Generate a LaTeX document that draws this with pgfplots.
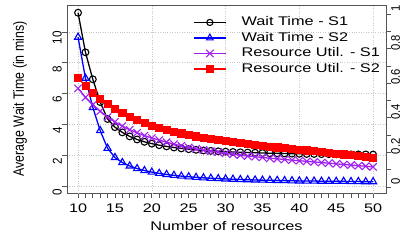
\documentclass[border=0pt]{standalone}
\usepackage{fontspec}
\setmainfont{Liberation Sans}
\newfontfamily\hfont{Liberation Sans}[FakeStretch=1.3]
\newfontfamily\vfont{Liberation Sans}[FakeStretch=0.83]
\newfontfamily\tfont{Liberation Sans}[FakeStretch=0.9]
\usepackage{pgfplots}
\usepackage{pgfplotstable}
\pgfplotsset{compat=1.18}
\definecolor{rpurple}{HTML}{A020F0}
\definecolor{framecol}{HTML}{555555}

\pgfplotstableread{
x s1 s2
10 11.25 9.66
11 8.68 7.00
12 6.93 5.10
13 5.45 3.60
14 4.35 2.45
15 3.82 1.85
16 3.48 1.52
17 3.22 1.30
18 3.02 1.13
19 2.87 1.00
20 2.75 0.90
21 2.65 0.82
22 2.57 0.75
23 2.50 0.69
24 2.44 0.64
25 2.39 0.60
26 2.35 0.56
27 2.31 0.53
28 2.28 0.50
29 2.25 0.48
30 2.23 0.46
31 2.21 0.44
32 2.19 0.42
33 2.17 0.41
34 2.16 0.39
35 2.14 0.38
36 2.13 0.37
37 2.12 0.36
38 2.11 0.35
39 2.10 0.34
40 2.09 0.33
41 2.08 0.32
42 2.08 0.32
43 2.07 0.31
44 2.07 0.31
45 2.06 0.30
46 2.06 0.30
47 2.05 0.29
48 2.05 0.29
49 2.05 0.28
50 2.04 0.28
}\waitdata

\pgfplotstableread{
x u1 u2
10 0.570 0.630
11 0.518 0.585
12 0.475 0.546
13 0.438 0.511
14 0.404 0.479
15 0.376 0.451
16 0.352 0.427
17 0.331 0.406
18 0.313 0.388
19 0.297 0.371
20 0.283 0.356
21 0.271 0.343
22 0.259 0.330
23 0.248 0.320
24 0.238 0.310
25 0.229 0.301
26 0.221 0.293
27 0.214 0.285
28 0.207 0.278
29 0.201 0.271
30 0.195 0.265
31 0.189 0.259
32 0.184 0.254
33 0.179 0.248
34 0.175 0.244
35 0.171 0.238
36 0.166 0.234
37 0.163 0.229
38 0.159 0.225
39 0.155 0.221
40 0.152 0.216
41 0.148 0.212
42 0.145 0.207
43 0.141 0.203
44 0.138 0.198
45 0.134 0.194
46 0.130 0.189
47 0.127 0.185
48 0.123 0.180
49 0.120 0.176
50 0.116 0.171
}\utildata

\begin{document}
\begin{tikzpicture}
\pgfplotsset{
  base/.style={
    width=319bp, height=188bp, scale only axis,
    xmin=8.5, xmax=51.75,
    tick align=outside,
    major tick length=5bp, minor tick length=5bp,
    every tick/.style={framecol, line width=0.7bp},
    every minor tick/.style={framecol, line width=0.7bp},
  },
}
\begin{axis}[base,
  ymin=-0.455, ymax=11.753,
  axis line style={framecol, line width=0.8bp},
  xtick={10,15,...,50},
  xticklabels={10,15,20,25,30,35,40,45,50},
  minor xtick={11,12,13,14,16,17,18,19,21,22,23,24,26,27,28,29,31,32,33,34,36,37,38,39,41,42,43,44,46,47,48,49},
  xtick pos=bottom, ytick pos=left,
  ytick={0,2,...,10},
  yticklabels={0,2,4,6,8,10},
  extra x ticks={10,20,30,40,50},
  extra x tick labels={},
  extra x tick style={grid=major, major tick length=0pt},
  ymajorgrids,
  major grid style={dotted, black!22, line width=0.6bp},
  xticklabel style={font=\hfont\fontsize{12.5}{12.5}\selectfont, inner sep=0pt, anchor=north, yshift=-6bp},
  yticklabel style={font=\tfont\fontsize{13}{13}\selectfont, rotate=90, anchor=south, inner sep=0pt, xshift=-6bp},
  xlabel={Number of resources},
  xlabel style={font=\hfont\fontsize{12.6}{12.6}\selectfont, at={(axis description cs:0.5,-0.1755)}, anchor=center, inner sep=0pt},
  ylabel={Average Wait Time (in mins)},
  ylabel style={font=\vfont\fontsize{15}{15}\selectfont, at={(axis description cs:-0.147,0.5)}, anchor=center, rotate=0, inner sep=0pt},
]
\coordinate (SW) at (rel axis cs:0,0);
\coordinate (NE) at (rel axis cs:1,1);
\addplot[black, line width=1.3bp, mark=o, mark size=3.4bp, mark options={line width=1.1bp}] table[x=x, y=s1] {\waitdata};
\addplot[blue, line width=1.3bp, mark=triangle, mark size=4.1bp, mark options={line width=1.1bp}] table[x=x, y=s2] {\waitdata};
\end{axis}
\begin{axis}[base,
  ymin=-0.0347, ymax=1.052,
  axis x line=none,
  axis y line*=right,
  axis line style={framecol, line width=0.8bp},
  ytick={0,0.2,...,1},
  yticklabels={0,0.2,0.4,0.6,0.8,1},
  minor ytick={0.1,0.3,0.5,0.7,0.9},
  yticklabel style={font=\tfont\fontsize{12.5}{12.5}\selectfont, rotate=90, anchor=north, inner sep=0pt, xshift=6bp},
  legend style={at={(axis description cs:0.395,0.9415)}, anchor=north west, draw=none, fill=none,
    font=\hfont\fontsize{12.6}{12.6}\selectfont, inner sep=0pt, row sep=3bp, column sep=15bp,
    nodes={inner xsep=0pt, inner ysep=0pt, text height=9.5bp, text depth=3bp}},
  legend cell align=left,
  legend image code/.code={\draw[mark repeat=2, mark phase=2] plot coordinates {(0bp,0bp) (16bp,0bp) (32bp,0bp)};},
]
\addlegendimage{black, line width=1.3bp, mark=o, mark size=3.1bp, mark options={line width=1.1bp}}
\addlegendentry{Wait Time - S1}
\addlegendimage{blue, line width=1.3bp, mark=triangle, mark size=3.8bp, mark options={line width=1.1bp}}
\addlegendentry{Wait Time - S2}
\addplot[rpurple, line width=1.3bp, mark=x, mark size=5.2bp, mark options={line width=1.1bp}] table[x=x, y=u1] {\utildata};
\addlegendentry{Resource Util. - S1}
\addplot[red, line width=1.3bp, mark=square*, mark size=3.6bp, mark options={fill=red, draw=red, line width=0.6bp}] table[x=x, y=u2] {\utildata};
\addlegendentry{Resource Util. - S2}
\end{axis}
\pgfresetboundingbox
\path (NE) ++(19bp,5bp) coordinate (NE2);
\path (SW) ++(-67bp,-47bp) rectangle (NE2);
\end{tikzpicture}
\end{document}
